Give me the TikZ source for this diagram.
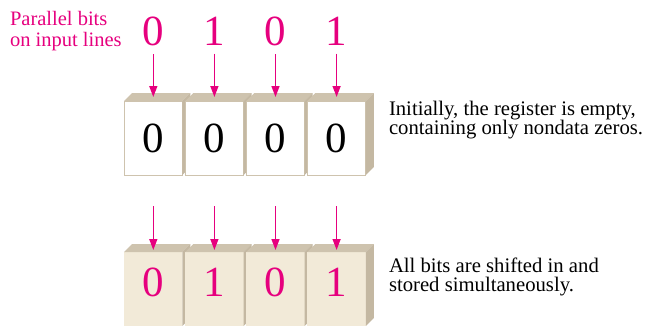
\documentclass[tikz,border=0pt]{standalone}
\usepackage{fontspec}
\setmainfont{Liberation Serif}
\usetikzlibrary{arrows.meta,positioning}

\definecolor{bitpink}{RGB}{230,0,126}
\definecolor{cellbeige}{RGB}{242,234,216}
\definecolor{celltan}{RGB}{206,195,174}
\definecolor{cellside}{RGB}{196,184,162}

% top and right faces of one register cell
\newcommand{\cellfaces}[1]{%
  \fill[topface] (#1.north west) -- ++(8,-8) -- ([shift={(8,-8)}]#1.north east) -- (#1.north east) -- cycle;
  \fill[sideface] (#1.north east) -- ++(8,-8) -- ([shift={(8,-8)}]#1.south east) -- (#1.south east) -- cycle;}

\begin{document}
\begin{tikzpicture}[x=1pt,y=-1pt,
    every node/.style={inner sep=0pt,outer sep=0pt},
    cell/.style={rectangle,minimum width=58.3pt,minimum height=74pt,
                 font=\fontsize{43}{43}\selectfont},
    cellA/.style={cell,fill=white,draw=celltan,line width=0.8pt},
    cellB/.style={cell,fill=cellbeige,text=bitpink,text depth=14pt},
    topface/.style={fill=celltan},
    sideface/.style={fill=cellside},
    bitin/.style={text=bitpink,font=\fontsize{43}{43}\selectfont,anchor=base},
    feed/.style={bitpink,line width=1.4pt,-{Triangle[length=11pt,width=8pt]}},
    note/.style={anchor=north west,align=left,font=\fontsize{20.7}{19.5}\selectfont}]
  \useasboundingbox (0,0) rectangle (648,325);
  \tikzset{node distance=2.8pt}
  %%% REGISTER, EMPTY %%%
  \node[cellA] (a0) at (153.3,138) {0};
  \cellfaces{a0}
  \node[cellA, right=of a0] (a1) {0};
  \cellfaces{a1}
  \node[cellA, right=of a1] (a2) {0};
  \cellfaces{a2}
  \node[cellA, right=of a2] (a3) {0};
  \cellfaces{a3}
  %%% REGISTER, LOADED %%%
  \node[cellB] (b0) at (153.3,289) {0};
  \cellfaces{b0}
  \node[cellB, right=of b0] (b1) {1};
  \cellfaces{b1}
  \node[cellB, right=of b1] (b2) {0};
  \cellfaces{b2}
  \node[cellB, right=of b2] (b3) {1};
  \cellfaces{b3}
  %%% INPUT BITS %%%
  \node[bitin] (in0) at (153.3,45.7) {0};
  \node[bitin] (in1) at (a1 |- in0.base) {1};
  \node[bitin] (in2) at (a2 |- in0.base) {0};
  \node[bitin] (in3) at (a3 |- in0.base) {1};
  \draw[feed, shorten <=8pt] (in0.south) -- ([yshift=4pt]a0.north);
  \draw[feed, shorten <=8pt] (in1.south) -- ([yshift=4pt]a1.north);
  \draw[feed, shorten <=8pt] (in2.south) -- ([yshift=4pt]a2.north);
  \draw[feed, shorten <=8pt] (in3.south) -- ([yshift=4pt]a3.north);
  \coordinate[above=46pt of b0] (s0);
  \coordinate[above=46pt of b1] (s1);
  \coordinate[above=46pt of b2] (s2);
  \coordinate[above=46pt of b3] (s3);
  \draw[feed] (s0) -- ([yshift=2pt]b0.north);
  \draw[feed] (s1) -- ([yshift=2pt]b1.north);
  \draw[feed] (s2) -- ([yshift=2pt]b2.north);
  \draw[feed] (s3) -- ([yshift=2pt]b3.north);
  %%% TEXTS %%%
  \node[note, text=bitpink, font=\fontsize{20.5}{21.5}\selectfont] (inlabel) at (10,11) {Parallel bits\\on input lines};
  \node[note] (emptynote) at (389,101) {Initially, the register is empty,\\containing only nondata zeros.};
  \node[note] (loadnote) at (389,257.5) {All bits are shifted in and\\stored simultaneously.};
\end{tikzpicture}
\end{document}
